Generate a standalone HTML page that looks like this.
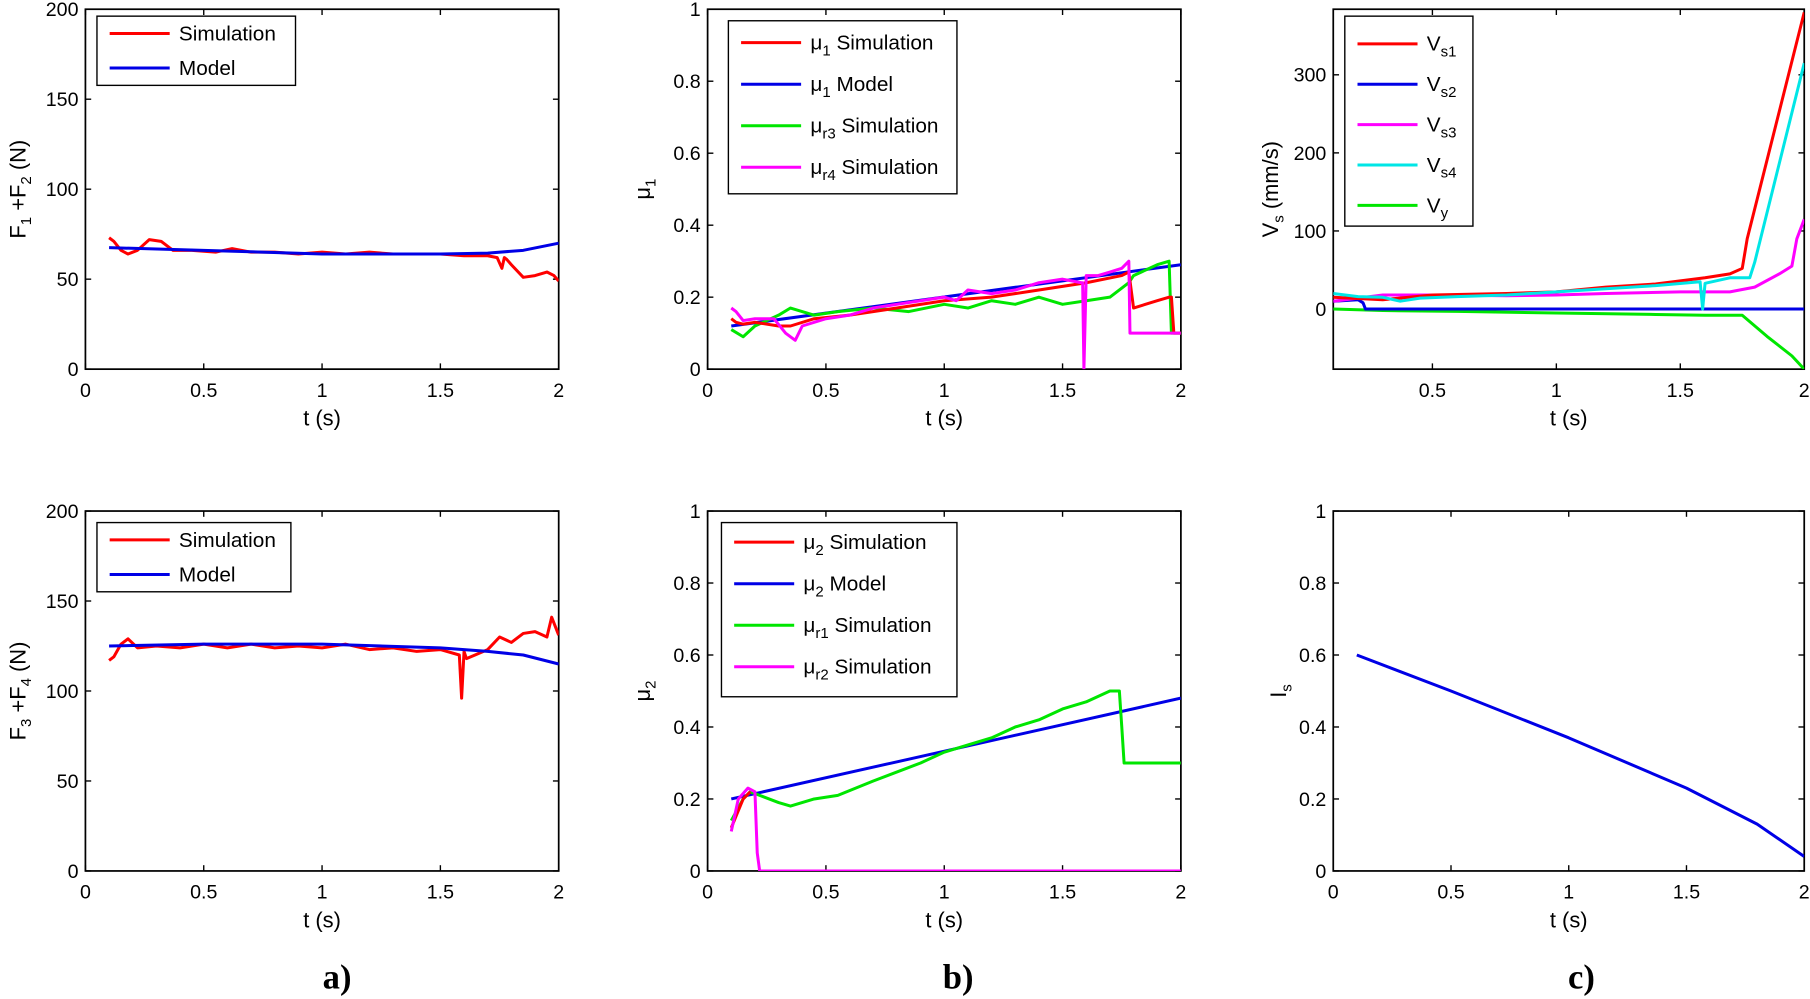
<!DOCTYPE html>
<html><head><meta charset="utf-8"><style>
html,body{margin:0;padding:0;background:#fff;}
svg{display:block;}
text{font-family:"Liberation Sans",sans-serif;fill:#000;}
</style></head><body>
<svg id="fig" width="1810" height="999" viewBox="0 0 1568 866" preserveAspectRatio="none" xmlns="http://www.w3.org/2000/svg"></svg>
<script>
// ---- data ----
const f12SimT=[0.1,0.12,0.15,0.18,0.22,0.27,0.32,0.37,0.45,0.55,0.62,0.7,0.8,0.9,1.0,1.1,1.2,1.3,1.4,1.5,1.6,1.7,1.74,1.76,1.77,1.78,1.8,1.85,1.9,1.95,1.98,2.0];
const f12SimV=[73,71,66,64,66,72,71,66,66,65,67,65,65,64,65,64,65,64,64,64,63,63,62,56,62,61,58,51,52,54,52,49];
const f12ModT=[0.1,0.5,1,1.5,1.7,1.85,2];
const f12ModV=[67.5,66,64,64,64.5,66,70];
const f34SimT=[0.1,0.12,0.15,0.18,0.22,0.3,0.4,0.5,0.6,0.7,0.8,0.9,1.0,1.1,1.2,1.3,1.4,1.5,1.58,1.59,1.6,1.61,1.7,1.75,1.8,1.85,1.9,1.95,1.97,2.0];
const f34SimV=[117,119,126,129,124,125,124,126,124,126,124,125,124,126,123,124,122,123,120,96,122,118,123,130,127,132,133,130,141,131];
const f34ModT=[0.1,0.5,1,1.5,1.7,1.85,2];
const f34ModV=[125,126,126,124,122,120,115];
const mu1SimT=[0.1,0.12,0.15,0.2,0.3,0.35,0.45,0.6,0.8,1.0,1.2,1.4,1.6,1.75,1.78,1.8,1.9,1.95,1.96,1.97,2.0];
const mu1SimV=[0.14,0.13,0.125,0.13,0.12,0.12,0.14,0.15,0.17,0.19,0.2,0.22,0.24,0.26,0.27,0.17,0.19,0.2,0.2,0.1,0.1];
const mu1ModT=[0.1,2.0];
const mu1ModV=[0.12,0.29];
const mur3T=[0.1,0.15,0.2,0.3,0.35,0.45,0.55,0.7,0.85,1.0,1.1,1.2,1.3,1.4,1.5,1.6,1.7,1.78,1.8,1.9,1.95,1.96,2.0];
const mur3V=[0.11,0.09,0.12,0.15,0.17,0.15,0.16,0.17,0.16,0.18,0.17,0.19,0.18,0.2,0.18,0.19,0.2,0.24,0.26,0.29,0.3,0.1,0.1];
const mur4T=[0.1,0.12,0.15,0.2,0.28,0.33,0.37,0.4,0.5,0.6,0.7,0.8,0.9,1.0,1.05,1.1,1.2,1.3,1.4,1.5,1.58,1.585,1.59,1.6,1.65,1.7,1.75,1.78,1.785,1.79,2.0];
const mur4V=[0.17,0.16,0.135,0.14,0.14,0.1,0.08,0.12,0.14,0.15,0.17,0.18,0.19,0.2,0.19,0.22,0.21,0.22,0.24,0.25,0.24,0.24,0,0.26,0.26,0.27,0.28,0.3,0.1,0.1,0.1];
const mu2ModT=[0.1,2.0];
const mu2ModV=[0.2,0.48];
const mur1T=[0.1,0.15,0.18,0.22,0.3,0.35,0.45,0.55,0.7,0.9,1.0,1.1,1.2,1.3,1.4,1.5,1.6,1.7,1.74,1.75,1.76,2.0];
const mur1V=[0.14,0.2,0.22,0.21,0.19,0.18,0.2,0.21,0.25,0.3,0.33,0.35,0.37,0.4,0.42,0.45,0.47,0.5,0.5,0.4,0.3,0.3];
const mu2SimT=[0.1,0.15,0.18];
const mu2SimV=[0.12,0.2,0.22];
const mur2T=[0.1,0.13,0.17,0.2,0.21,0.22,2.0];
const mur2V=[0.11,0.2,0.23,0.22,0.05,0,0];
const vs1T=[0.1,0.3,0.5,0.8,1.0,1.2,1.4,1.6,1.7,1.75,1.77,2.0];
const vs1V=[15,12,18,20,22,28,32,40,45,52,90,380];
const vs2T=[0.1,0.2,0.22,0.23,2.0];
const vs2V=[10,12,8,0,0];
const vs3T=[0.1,0.2,0.3,0.5,0.8,1.0,1.2,1.5,1.7,1.8,1.9,1.95,1.97,2.0];
const vs3V=[10,14,18,18,17,18,20,22,22,28,45,55,90,115];
const vs4T=[0.1,0.2,0.3,0.37,0.45,0.6,0.8,1.0,1.2,1.4,1.58,1.59,1.6,1.7,1.78,1.8,2.0];
const vs4V=[20,16,15,10,14,16,18,22,26,30,35,0,33,40,40,60,315];
const vyT=[0.1,0.3,0.6,1.0,1.4,1.6,1.75,1.85,1.95,2.0];
const vyV=[0,-2,-3,-5,-7,-8,-8,-35,-60,-77];
const isT=[0.1,0.5,1.0,1.5,1.8,2.0];
const isV=[0.6,0.5,0.37,0.23,0.13,0.04];
const xTicks02=[0,0.5,1,1.5,2];
const xTicksVs=[0.5,1,1.5,2];
const fTicks=[0,50,100,150,200];
const muTicks=[0,0.2,0.4,0.6,0.8,1];
const vsTicks=[0,100,200,300];
const RED='#f00',BLUE='#0000e6',GREEN='#00e600',MAG='#ff00ff',CYAN='#00e6e6';

const NS='http://www.w3.org/2000/svg';
const svg=document.getElementById('fig');
function mk(tag,attrs,parent){const e=document.createElementNS(NS,tag);for(const k in attrs)e.setAttribute(k,attrs[k]);(parent||svg).appendChild(e);return e;}

function axes(name,box,xr,yr,xt,yt,ylabelHTML,ylx){
  const g=mk('g',{});
  
  
  const sx=v=>box.x0+(v-xr[0])/(xr[1]-xr[0])*(box.x1-box.x0);
  const sy=v=>box.y1-(v-yr[0])/(yr[1]-yr[0])*(box.y1-box.y0);
  const frame=mk('rect',{x:box.x0,y:box.y0,width:box.x1-box.x0,height:box.y1-box.y0,fill:'#fff',stroke:'#000','stroke-width':1.5},g);
  
  
  xt.forEach(v=>{const x=sx(v);
    mk('line',{x1:x,x2:x,y1:box.y1,y2:box.y1-5,stroke:'#000','stroke-width':1.2},g);
    mk('line',{x1:x,x2:x,y1:box.y0,y2:box.y0+5,stroke:'#000','stroke-width':1.2},g);
    const t=mk('text',{x:x,y:box.y1+24,'text-anchor':'middle','font-size':17},g);t.textContent=String(v);
    
    
  });
  yt.forEach(v=>{const y=sy(v);
    mk('line',{x1:box.x0,x2:box.x0+5,y1:y,y2:y,stroke:'#000','stroke-width':1.2},g);
    mk('line',{x1:box.x1,x2:box.x1-5,y1:y,y2:y,stroke:'#000','stroke-width':1.2},g);
    const t=mk('text',{x:box.x0-6,y:y+6,'text-anchor':'end','font-size':17},g);t.textContent=String(v);
    
    
  });
  const xl=mk('text',{x:(box.x0+box.x1)/2,y:box.y1+49,'text-anchor':'middle','font-size':19},g);xl.textContent='t (s)';
  
  
  const yl=mk('text',{transform:`translate(${ylx},${(box.y0+box.y1)/2}) rotate(-90)`,'text-anchor':'middle','font-size':19},g);
  yl.innerHTML=ylabelHTML;
  
  
  const clip='c'+name;
  const cp=mk('clipPath',{id:clip},g);mk('rect',{x:box.x0,y:box.y0,width:box.x1-box.x0,height:box.y1-box.y0},cp);
  const lines=mk('g',{'clip-path':`url(#${clip})`},g);
  return {g,lines,sx,sy};
}
function series(ax,name,T,V,color){
  const d=T.map((t,i)=>(i?'L':'M')+ax.sx(t).toFixed(1)+','+ax.sy(V[i]).toFixed(1)).join('');
  const p=mk('path',{d:d,fill:'none',stroke:color,'stroke-width':2.6,'stroke-linejoin':'round'},ax.lines);
  
  
}
function legend(ax,name,x,y,w,h,entries,gap,y0){
  const g=mk('g',{},ax.g);
  
  
  mk('rect',{x:x,y:y,width:w,height:h,fill:'#fff',stroke:'#000','stroke-width':1.2},g);
  entries.forEach((e,i)=>{const yy=y+y0+i*gap;
    mk('line',{x1:x+11,x2:x+63,y1:yy,y2:yy,stroke:e[1],'stroke-width':2.6},g);
    const t=mk('text',{x:x+71,y:yy+6,'font-size':18},g);t.innerHTML=e[0];
    
    
  });
}
const sub=s=>`<tspan dy="5" font-size="13">${s}</tspan><tspan dy="-5"> </tspan>`;

// a) top
let a1=axes('force-f1f2-plot',{x0:74,x1:484,y0:8,y1:320},[0,2],[0,200],xTicks02,fTicks,'F'+sub('1')+'+F'+sub('2')+'(N)',22);
series(a1,'f12-simulation-line',f12SimT,f12SimV,RED);
series(a1,'f12-model-line',f12ModT,f12ModV,BLUE);
legend(a1,'legend-f12',84,14,172,60,[['Simulation',RED],['Model',BLUE]],30,15);
// a) bottom
let a2=axes('force-f3f4-plot',{x0:74,x1:484,y0:443,y1:755},[0,2],[0,200],xTicks02,fTicks,'F'+sub('3')+'+F'+sub('4')+'(N)',22);
series(a2,'f34-simulation-line',f34SimT,f34SimV,RED);
series(a2,'f34-model-line',f34ModT,f34ModV,BLUE);
legend(a2,'legend-f34',84,453,168,60,[['Simulation',RED],['Model',BLUE]],30,15);
// b) top
let b1=axes('mu1-plot',{x0:613,x1:1023,y0:8,y1:320},[0,2],[0,1],xTicks02,muTicks,'μ'+sub('1'),563);
series(b1,'mu1-model-line',mu1ModT,mu1ModV,BLUE);
series(b1,'mu-r3-simulation-line',mur3T,mur3V,GREEN);
series(b1,'mu1-simulation-line',mu1SimT,mu1SimV,RED);
series(b1,'mu-r4-simulation-line',mur4T,mur4V,MAG);
legend(b1,'legend-mu1',631,18,198,150,[['μ'+sub('1')+'Simulation',RED],['μ'+sub('1')+'Model',BLUE],['μ'+sub('r3')+'Simulation',GREEN],['μ'+sub('r4')+'Simulation',MAG]],36,19);
// b) bottom
let b2=axes('mu2-plot',{x0:613,x1:1023,y0:443,y1:755},[0,2],[0,1],xTicks02,muTicks,'μ'+sub('2'),563);
series(b2,'mu2-model-line',mu2ModT,mu2ModV,BLUE);
series(b2,'mu-r1-simulation-line',mur1T,mur1V,GREEN);
series(b2,'mu2-simulation-line',mu2SimT,mu2SimV,RED);
series(b2,'mu-r2-simulation-line',mur2T,mur2V,MAG);
legend(b2,'legend-mu2',625,453,204,151,[['μ'+sub('2')+'Simulation',RED],['μ'+sub('2')+'Model',BLUE],['μ'+sub('r1')+'Simulation',GREEN],['μ'+sub('r2')+'Simulation',MAG]],36,17);
// c) top
let c1=axes('slip-velocity-plot',{x0:1155,x1:1563,y0:8,y1:320},[0.1,2],[-77,384],xTicksVs,vsTicks,'V'+sub('s')+'(mm/s)',1107);
series(c1,'vy-line',vyT,vyV,GREEN);
series(c1,'vs2-line',vs2T,vs2V,BLUE);
series(c1,'vs3-line',vs3T,vs3V,MAG);
series(c1,'vs1-line',vs1T,vs1V,RED);
series(c1,'vs4-line',vs4T,vs4V,CYAN);
legend(c1,'legend-vs',1165,14,111,182,[['V'+sub('s1'),RED],['V'+sub('s2'),BLUE],['V'+sub('s3'),MAG],['V'+sub('s4'),CYAN],['V'+sub('y'),GREEN]],35,24);
// c) bottom
let c2=axes('is-plot',{x0:1155,x1:1563,y0:443,y1:755},[0,2],[0,1],xTicks02,muTicks,'I'+sub('s'),1114);
series(c2,'is-line',isT,isV,BLUE);

[['a)',292],['b)',830],['c)',1370]].forEach(p=>{
  const t=mk('text',{x:p[1],y:857,'text-anchor':'middle','font-size':30,'font-weight':'bold',style:'font-family:"Liberation Serif",serif'});
  t.textContent=p[0];
  
  
});
</script>
</body></html>
